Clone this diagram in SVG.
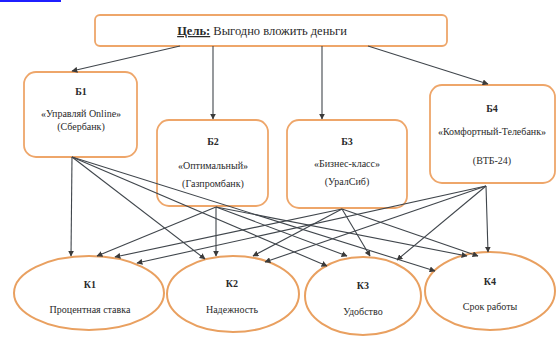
<svg xmlns="http://www.w3.org/2000/svg" width="558" height="340" viewBox="0 0 558 340">
  <defs>
    <marker id="arr" viewBox="0 0 10 10" refX="9" refY="5" markerWidth="6" markerHeight="6" orient="auto" markerUnits="userSpaceOnUse">
      <path d="M0,0 L10,5 L0,10 z" fill="#3a3a3a"/>
    </marker>
    <style>
      .box { fill: #ffffff; stroke: #eea66a; stroke-width: 1.8; }
      .oval { fill: #ffffff; stroke: #e9a060; stroke-width: 2; }
      .t { font-family: "Liberation Serif", "Times New Roman", serif; fill: #2a2a2a; text-anchor: middle; }
      .s { font-size: 10px; }
      .h { font-size: 10px; font-weight: bold; }
      .c { fill: none; stroke: #40464c; stroke-width: 1.1; marker-end: url(#arr); }
    </style>
  </defs>

  <rect x="0" y="0" width="61" height="2" fill="#1f1fff"/>

  <!-- goal -->
  <g id="goal">
    <rect class="box" x="95" y="15" width="352" height="31" rx="5"/>
    <text class="t" x="262" y="35" font-size="12.5"><tspan font-weight="bold" text-decoration="underline">Цель:</tspan> Выгодно вложить деньги</text>
  </g>

  <!-- alternatives -->
  <g id="b1">
    <rect class="box" x="24" y="72" width="113" height="85" rx="12"/>
    <text class="t h" x="81" y="95">Б1</text>
    <text class="t s" x="81" y="117">«Управляй Online»</text>
    <text class="t s" x="81" y="130">(Сбербанк)</text>
  </g>
  <g id="b2">
    <rect class="box" x="157" y="120" width="111" height="86" rx="12"/>
    <text class="t h" x="213" y="145">Б2</text>
    <text class="t s" x="213" y="169">«Оптимальный»</text>
    <text class="t s" x="213" y="187">(Газпромбанк)</text>
  </g>
  <g id="b3">
    <rect class="box" x="287" y="120" width="120" height="88" rx="12"/>
    <text class="t h" x="347" y="145">Б3</text>
    <text class="t s" x="347" y="167">«Бизнес-класс»</text>
    <text class="t s" x="347" y="185">(УралСиб)</text>
  </g>
  <g id="b4">
    <rect class="box" x="430" y="85" width="125" height="98" rx="12"/>
    <text class="t h" x="492" y="112">Б4</text>
    <text class="t s" x="492" y="135">«Комфортный-Телебанк»</text>
    <text class="t s" x="492" y="164">(ВТБ-24)</text>
  </g>

  <!-- criteria -->
  <g id="k1">
    <ellipse class="oval" cx="89" cy="293" rx="75" ry="37"/>
    <text class="t h" x="90" y="288">К1</text>
    <text class="t s" x="90" y="313">Процентная ставка</text>
  </g>
  <g id="k2">
    <ellipse class="oval" cx="233" cy="294" rx="66" ry="38"/>
    <text class="t h" x="232" y="287">К2</text>
    <text class="t s" x="232" y="313">Надежность</text>
  </g>
  <g id="k3">
    <ellipse class="oval" cx="363" cy="296" rx="58" ry="39"/>
    <text class="t h" x="363" y="289">К3</text>
    <text class="t s" x="363" y="315">Удобство</text>
  </g>
  <g id="k4">
    <ellipse class="oval" cx="490" cy="291" rx="65" ry="39"/>
    <text class="t h" x="490" y="285">К4</text>
    <text class="t s" x="490" y="310">Срок работы</text>
  </g>

  <!-- connectors -->
  <g id="connectors">
    <line class="c" x1="180" y1="46" x2="72" y2="71"/>
    <line class="c" x1="213" y1="46" x2="213" y2="119"/>
    <line class="c" x1="322" y1="46" x2="322" y2="119"/>
    <line class="c" x1="368" y1="46" x2="488" y2="84"/>

    <line class="c" x1="72" y1="157" x2="71" y2="256"/>
    <line class="c" x1="72" y1="157" x2="205" y2="259"/>
    <line class="c" x1="72" y1="157" x2="327" y2="266"/>
    <line class="c" x1="72" y1="157" x2="435" y2="271"/>

    <line class="c" x1="216" y1="207" x2="97" y2="256"/>
    <line class="c" x1="216" y1="207" x2="216" y2="256"/>
    <line class="c" x1="216" y1="207" x2="347" y2="256"/>
    <line class="c" x1="216" y1="207" x2="467" y2="256"/>

    <line class="c" x1="342" y1="209" x2="115" y2="257"/>
    <line class="c" x1="342" y1="209" x2="253" y2="256"/>
    <line class="c" x1="342" y1="209" x2="370" y2="256"/>
    <line class="c" x1="342" y1="209" x2="478" y2="256"/>

    <line class="c" x1="486" y1="186" x2="137" y2="263"/>
    <line class="c" x1="486" y1="186" x2="265" y2="262"/>
    <line class="c" x1="486" y1="186" x2="397" y2="260"/>
    <line class="c" x1="486" y1="186" x2="488" y2="252"/>
  </g>
</svg>
